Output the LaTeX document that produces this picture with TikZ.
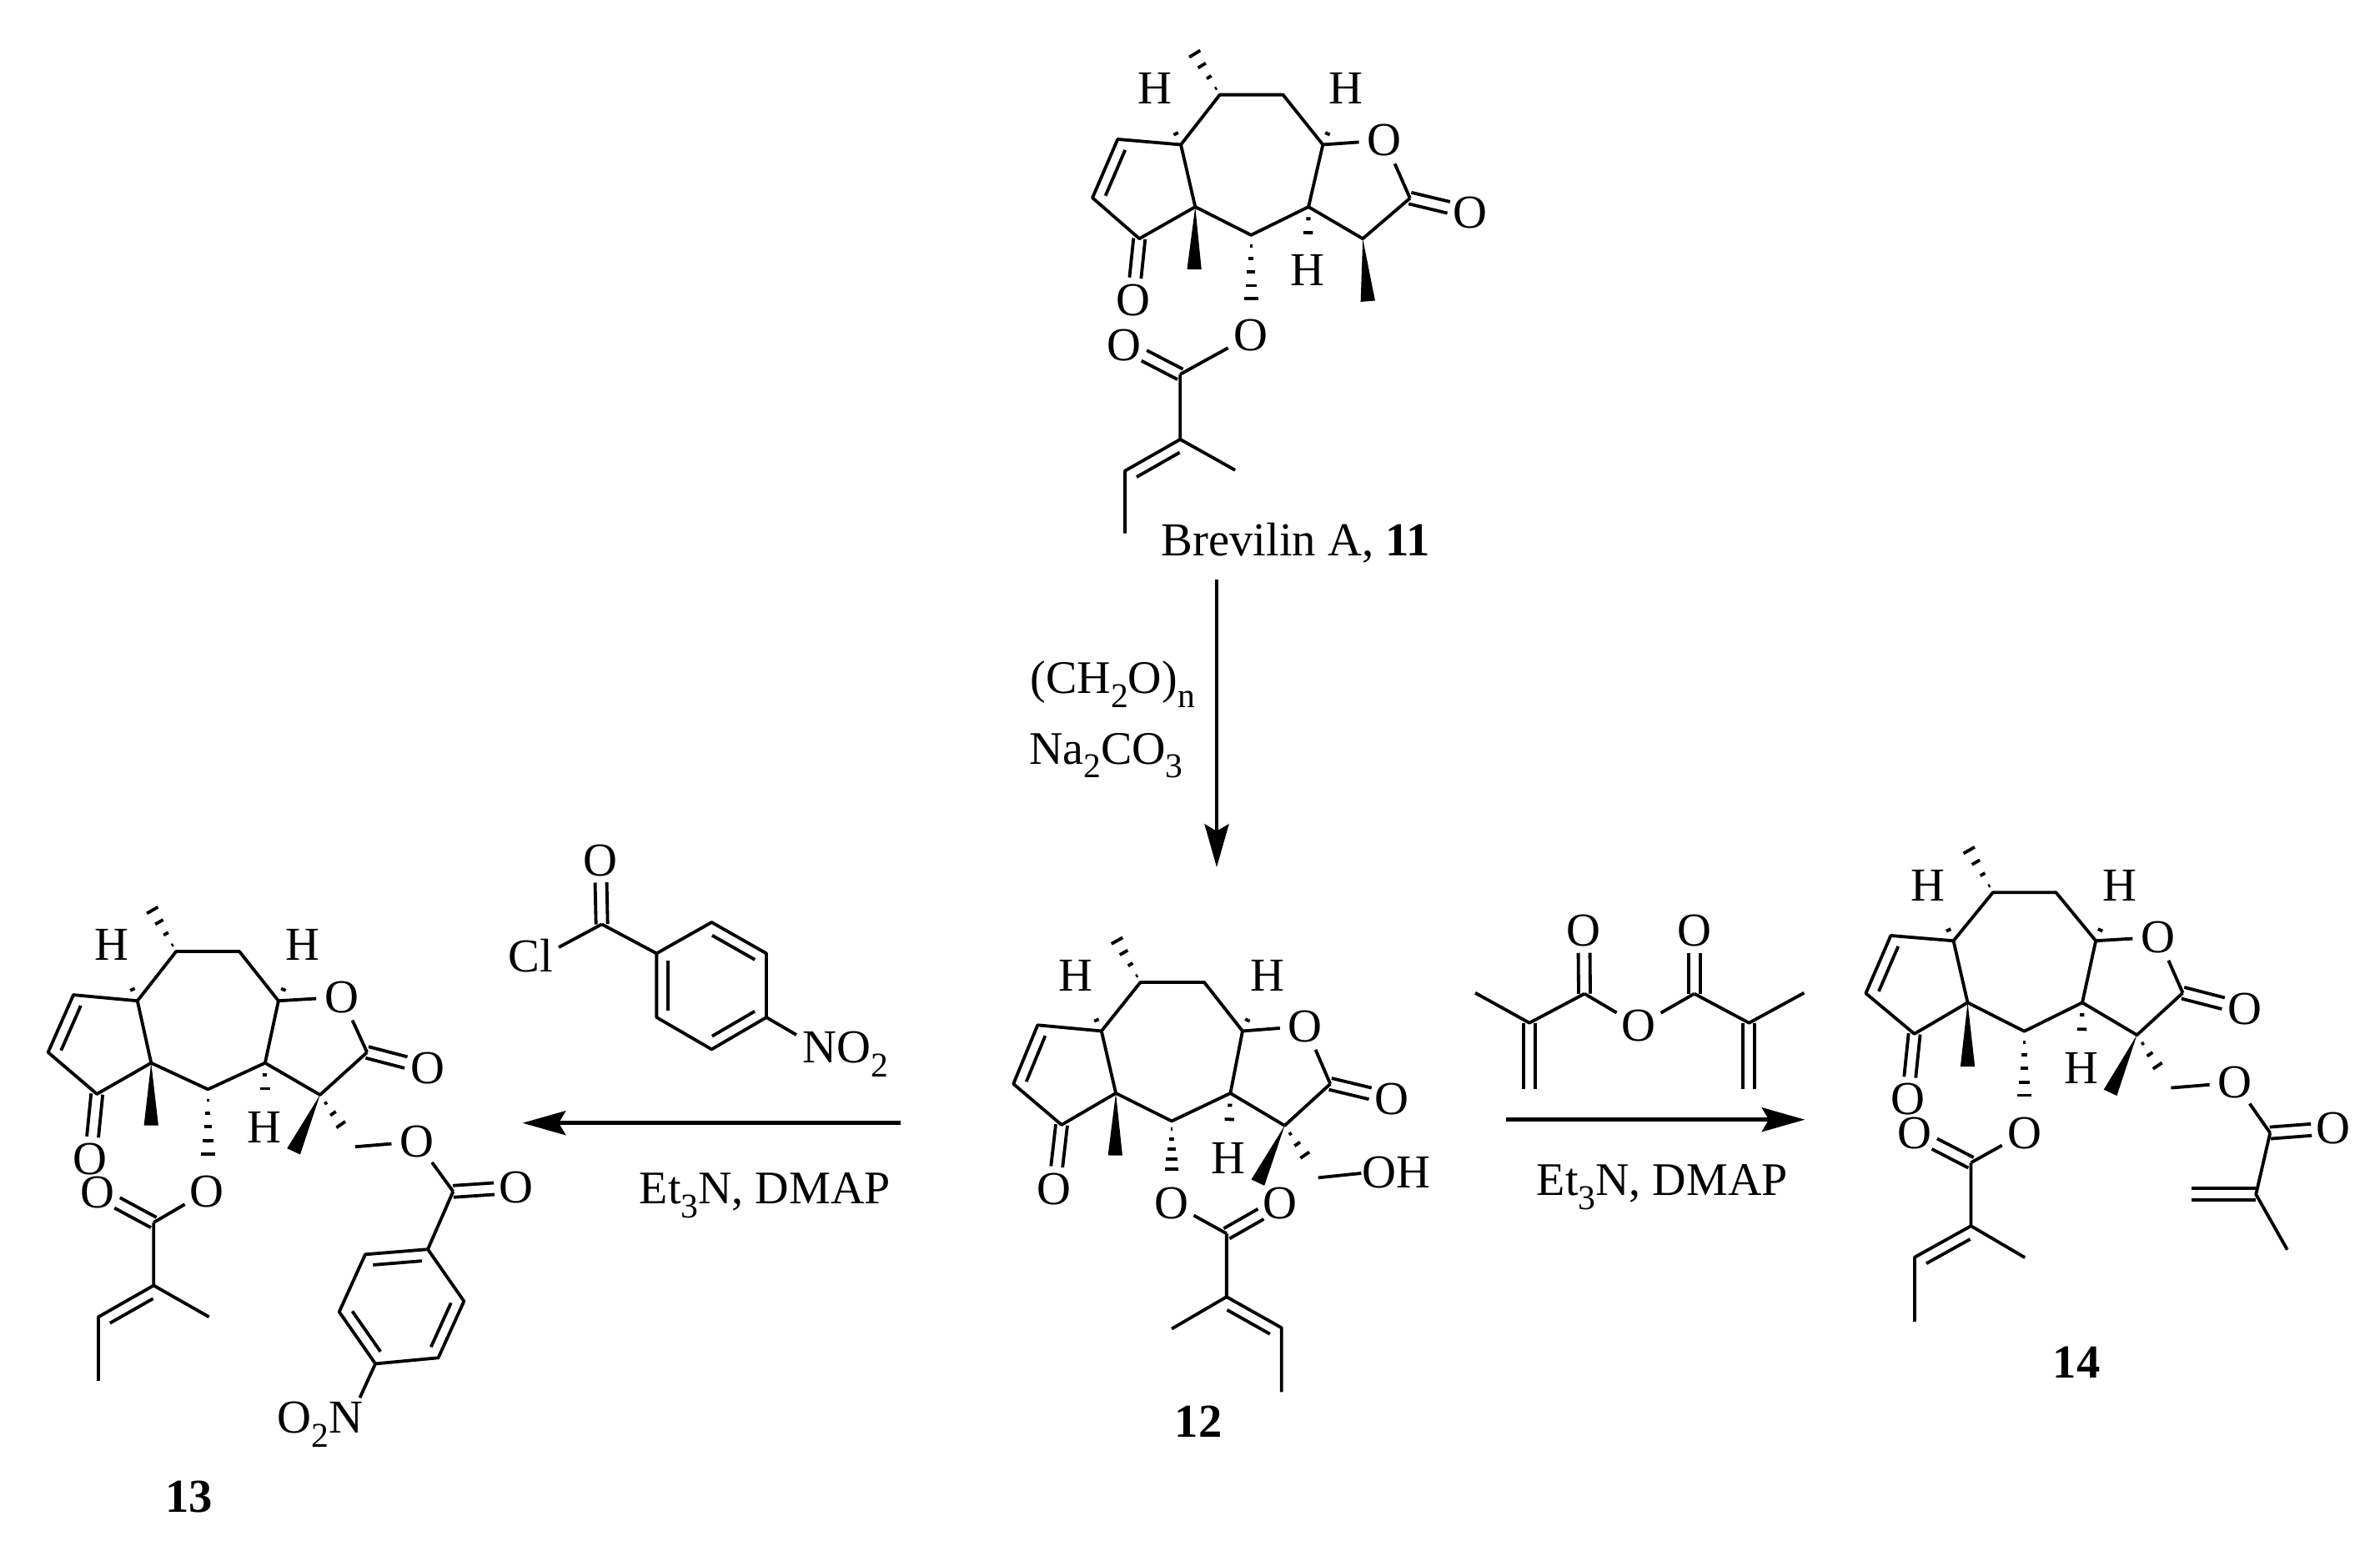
\documentclass[tikz,border=0pt]{standalone}
\usepackage{fontspec}
\setmainfont{Liberation Serif}
\usetikzlibrary{calc,arrows.meta}
\newcommand\sbs[1]{\raisebox{-.3em}{\fontsize{12.5}{13}\selectfont #1}}
\tikzset{
  bond/.style={line width=1.15pt,line cap=butt,line join=round,black},
  hashbar/.style={line width=1.15pt,black},
  atom/.style={circle,inner sep=0pt,minimum size=18pt,font=\fontsize{17}{19}\selectfont,text=black},
  plain/.style={inner sep=0pt,font=\fontsize{17}{19}\selectfont,text=black},
  rlabel/.style={inner sep=0pt,font=\fontsize{16.8}{20}\selectfont,text=black},
  rarrow/.style={line width=1.35pt,black,-{Stealth[length=15.5pt,width=8.7pt,inset=2.5pt]}},
}
% double bond: two lines either side of a--b
\newcommand\dbl[3][8pt]{%
  \draw[bond,shorten >=#1] ($(#2)!2.1pt!90:(#3)$) -- ($(#3)!2.1pt!-90:(#2)$);
  \draw[bond,shorten >=#1] ($(#2)!2.1pt!-90:(#3)$) -- ($(#3)!2.1pt!90:(#2)$);}
% inner line of a ring or alkene double bond
\newcommand\inbond[4][.11]{%
  \draw[bond] ($($(#2)!#1!(#3)$)!4pt!#4:(#3)$) -- ($($(#3)!#1!(#2)$)!4pt!-#4:(#2)$);}
% solid wedge
\newcommand\wedgeb[3][2.6pt]{%
  \fill[black] (#2) -- ($(#3)!#1!90:(#2)$) -- ($(#3)!#1!-90:(#2)$) -- cycle;}
% hashed wedge: tip, last bar, list of fractions, half width (pt number)
\newcommand\hashb[4]{%
  \foreach \tt in {#3}{%
    \pgfmathsetmacro\hw{#4*\tt}%
    \coordinate (hashp) at ($(#1)!\tt!(#2)$);
    \draw[hashbar] ($(hashp)!\hw pt!90:(#2)$) -- ($(hashp)!\hw pt!-90:(#2)$);
  }}
% common skeleton of the four sesquiterpene lactones
\newcommand\skel[1]{%
  \draw[bond] (A) -- (B) -- (C) -- (D) -- (E) -- (F) -- (G) -- cycle;
  \draw[bond] (G) -- (P) -- (I) -- (J) -- (F);
  \inbond{P}{I}{90}
  \draw[bond] (D) -- (L) -- (K);
  \draw[bond] (C) -- (Ol);
  \draw[bond] (Ol) -- (K);
  \dbl{J}{Oa}
  \dbl{K}{Ok}
  \wedgeb{F}{Fw}
  \hashb{A}{Z}{.12,.33,.55,.77,1}{3}
  \hashb{G}{Hlb}{.36,1}{2.5}
  \hashb{C}{Hrb}{.36,1}{2.5}
  \hashb{D}{Dh}{.3,.65,1}{2.6}
  \hashb{E}{Eh}{.14,.31,.48,.66,.83,1}{3}
  \draw[bond] (Oe) -- (M);
  \dbl{M}{Oc}
  \draw[bond] (M) -- (Nn) -- (Mn);
  \draw[bond] (Nn) -- (V) -- (Q);
  \inbond{Nn}{V}{#1}
}
\begin{document}
\begin{tikzpicture}
\useasboundingbox (0pt,0pt) rectangle (856.2pt,-557.7pt);
\fill[white] (0pt,0pt) rectangle (856.2pt,-557.7pt);

% ---------- 11
\begin{scope}[name prefix=a-,shift={(372pt,0pt)},x=.11480pt,y=-.13010pt]
\path (582,262) coordinate (A) (780,262) coordinate (B) (905,400) coordinate (C) (860,572) coordinate (D)
 (680,650) coordinate (E) (505,572) coordinate (F) (460,400) coordinate (G) (262,385) coordinate (P)
 (183,547) coordinate (I) (330,660) coordinate (J) (1178,548) coordinate (K) (1030,660) coordinate (L)
 (480,115) coordinate (Z) (417,316) coordinate (Hlb) (945,316) coordinate (Hrb) (858,682) coordinate (Dh)
 (680,862) coordinate (Eh) (502,745) coordinate (Fw) (1046,833) coordinate (Lw)
 (458,1035) coordinate (M) (458,1215) coordinate (Nn) (630,1300) coordinate (Mn) (285,1302) coordinate (V) (285,1475) coordinate (Q);
\node[atom] (Oa) at (310,830) {O};
\node[atom] (Ol) at (1098,388) {O};
\node[atom] (Ok) at (1367,588) {O};
\node[atom] (Oe) at (678,928) {O};
\node[atom] (Oc) at (283,955) {O};
\node[atom] (Hl) at (378,245) {H};
\node[atom] (Hr) at (978,245) {H};
\node[atom] (Hd) at (857,748) {H};
\skel{90}
\wedgeb{L}{Lw}
\node[rlabel,font=\fontsize{17}{20}\selectfont] (t11) at (820,1502) {Brevilin A, \textbf{11}};
\end{scope}

% ---------- 12
\begin{scope}[name prefix=b-,shift={(354pt,-327pt)},x=.11480pt,y=-.13393pt]
\path (490,197) coordinate (A) (690,197) coordinate (B) (810,328) coordinate (C) (772,495) coordinate (D)
 (588,570) coordinate (E) (413,495) coordinate (F) (368,328) coordinate (G) (168,312) coordinate (P)
 (92,470) coordinate (I) (243,580) coordinate (J) (1085,470) coordinate (K) (942,582) coordinate (L)
 (395,52) coordinate (Z) (325,247) coordinate (Hlb) (853,247) coordinate (Hrb) (767,603) coordinate (Dh)
 (588,725) coordinate (Eh) (411,662) coordinate (Fw) (858,735) coordinate (Lw) (1030,692) coordinate (Lh)
 (1047,722) coordinate (Ch) (1182,710) coordinate (Oh)
 (760,872) coordinate (M) (760,1042) coordinate (Nn) (588,1128) coordinate (Mn) (932,1125) coordinate (V) (932,1298) coordinate (Q);
\node[atom] (Oa) at (220,752) {O};
\node[atom] (Ol) at (1007,315) {O};
\node[atom] (Ok) at (1278,510) {O};
\node[atom] (Oe) at (587,790) {O};
\node[atom] (Oc) at (928,790) {O};
\node[atom] (Hl) at (287,180) {H};
\node[atom] (Hr) at (888,180) {H};
\node[atom] (Hd) at (765,670) {H};
\node[plain] (OH) at (1292,708) {OH};
\skel{-90}
\wedgeb{L}{Lw}
\hashb{L}{Lh}{.2,.45,.72,1}{2.7}
\draw[bond] (Ch) -- (Oh);
\node[rlabel,font=\bfseries\fontsize{17}{20}\selectfont] (t12) at (672,1378) {12};
\end{scope}

% ---------- 13
\begin{scope}[name prefix=c-,shift={(0pt,-312pt)},x=.13010pt,y=-.15306pt]
\path (487,198) coordinate (A) (662,198) coordinate (B) (770,314) coordinate (C) (733,460) coordinate (D)
 (575,522) coordinate (E) (418,460) coordinate (F) (380,314) coordinate (G) (203,300) coordinate (P)
 (133,435) coordinate (I) (268,533) coordinate (J) (1015,435) coordinate (K) (885,535) coordinate (L)
 (402,72) coordinate (Z) (342,240) coordinate (Hlb) (808,240) coordinate (Hrb) (733,553) coordinate (Dh)
 (575,705) coordinate (Eh) (418,607) coordinate (Fw) (812,668) coordinate (Lw) (965,632) coordinate (Lh)
 (982,657) coordinate (Ch) (1253,762) coordinate (Kb)
 (1183,898) coordinate (R1) (1283,1020) coordinate (R2) (1212,1153) coordinate (R3) (1038,1167) coordinate (R4)
 (938,1045) coordinate (R5) (1010,910) coordinate (R6)
 (425,835) coordinate (M) (425,983) coordinate (Nn) (578,1057) coordinate (Mn) (272,1057) coordinate (V) (272,1207) coordinate (Q);
\node[atom] (Oa) at (250,686) {O};
\node[atom] (Ol) at (945,305) {O};
\node[atom] (Ok) at (1182,472) {O};
\node[atom] (Oe) at (572,762) {O};
\node[atom] (Oc) at (270,764) {O};
\node[atom] (Hl) at (308,182) {H};
\node[atom] (Hr) at (838,182) {H};
\node[atom] (Hd) at (730,612) {H};
\node[atom] (Oj) at (1153,645) {O};
\node[atom] (Ob) at (1428,752) {O};
\node[plain] (ON) at (885,1310) {O\sbs{2}N};
\coordinate (Nb) at (995,1247);
\skel{90}
\wedgeb{L}{Lw}
\hashb{L}{Lh}{.2,.45,.72,1}{2.7}
\draw[bond] (Ch) -- (Oj);
\draw[bond] (Oj) -- (Kb);
\dbl{Kb}{Ob}
\draw[bond] (Kb) -- (R1);
\draw[bond] (R1) -- (R2) -- (R3) -- (R4) -- (R5) -- (R6) -- cycle;
\inbond{R1}{R6}{90}
\inbond{R2}{R3}{-90}
\inbond{R4}{R5}{-90}
\draw[bond] (R4) -- (Nb);
\node[rlabel,font=\bfseries\fontsize{17}{20}\selectfont] (t13) at (523,1480) {13};
\end{scope}

% ---------- 14
\begin{scope}[name prefix=d-,shift={(666pt,-294pt)},x=.12130pt,y=-.13393pt]
\path (420,202) coordinate (A) (607,202) coordinate (B) (725,332) coordinate (C) (685,498) coordinate (D)
 (513,575) coordinate (E) (345,498) coordinate (F) (303,332) coordinate (G) (117,318) coordinate (P)
 (43,473) coordinate (I) (187,582) coordinate (J) (983,472) coordinate (K) (847,585) coordinate (L)
 (328,55) coordinate (Z) (262,252) coordinate (Hlb) (762,252) coordinate (Hrb) (683,608) coordinate (Dh)
 (513,782) coordinate (Eh) (345,670) coordinate (Fw) (768,740) coordinate (Lw) (932,700) coordinate (Lh)
 (948,727) coordinate (Ch) (1242,848) coordinate (Kb) (1200,1013) coordinate (Vb) (1008,1013) coordinate (Vt) (1293,1162) coordinate (Vm)
 (355,928) coordinate (M) (355,1098) coordinate (Nn) (515,1183) coordinate (Mn) (188,1182) coordinate (V) (188,1355) coordinate (Q);
\node[atom] (Oa) at (167,758) {O};
\node[atom] (Ol) at (910,322) {O};
\node[atom] (Ok) at (1167,515) {O};
\node[atom] (Oe) at (513,848) {O};
\node[atom] (Oc) at (188,850) {O};
\node[atom] (Hl) at (228,183) {H};
\node[atom] (Hr) at (797,183) {H};
\node[atom] (Hd) at (682,675) {H};
\node[atom] (Oj) at (1138,713) {O};
\node[atom] (Ob) at (1430,835) {O};
\skel{90}
\wedgeb{L}{Lw}
\hashb{L}{Lh}{.2,.45,.72,1}{2.7}
\draw[bond] (Ch) -- (Oj);
\draw[bond] (Oj) -- (Kb);
\dbl{Kb}{Ob}
\draw[bond] (Kb) -- (Vb) -- (Vm);
\dbl[0pt]{Vb}{Vt}
\node[rlabel,font=\bfseries\fontsize{17}{20}\selectfont] (t14) at (668,1465) {14};
\end{scope}

% ---------- p-nitrobenzoyl chloride and left arrow
\begin{scope}[name prefix=e-,shift={(174pt,-294pt)},x=.1pt,y=-.1pt]
\path (425,385) coordinate (Cc) (270,468) coordinate (Cle)
 (622,490) coordinate (R1) (820,378) coordinate (R2) (1017,490) coordinate (R3) (1017,720) coordinate (R4)
 (820,835) coordinate (R5) (622,720) coordinate (R6) (1125,783) coordinate (Ne)
 (1500,1100) coordinate (As) (140,1100) coordinate (At);
\node[atom] (O) at (420,155) {O};
\node[plain] (Cl) at (168,497) {Cl};
\node[plain,anchor=west] (NO) at (1145,852) {NO\sbs{2}};
\dbl{Cc}{O}
\draw[bond] (Cc) -- (Cle);
\draw[bond] (Cc) -- (R1);
\draw[bond] (R1) -- (R2) -- (R3) -- (R4) -- (R5) -- (R6) -- cycle;
\inbond{R1}{R6}{90}
\inbond{R2}{R3}{-90}
\inbond{R4}{R5}{-90}
\draw[bond] (R4) -- (Ne);
\draw[rarrow] (As) -- (At);
\node[rlabel,anchor=base] (Lt) at (1012,1390) {Et\sbs{3}N, DMAP};
\end{scope}

% ---------- methacrylic anhydride and right arrow
\begin{scope}[name prefix=f-,shift={(528pt,-318pt)},x=.1pt,y=-.1pt]
\path (420,395) coordinate (C1) (815,395) coordinate (C2) (222,500) coordinate (V1) (1012,500) coordinate (V2)
 (27,392) coordinate (M1) (1210,392) coordinate (M2) (222,737) coordinate (T1) (1012,737) coordinate (T2)
 (138,848) coordinate (As) (1213,848) coordinate (At);
\node[atom] (O1) at (418,168) {O};
\node[atom] (O2) at (815,168) {O};
\node[atom] (O3) at (615,510) {O};
\dbl{C1}{O1}
\dbl{C2}{O2}
\draw[bond] (M1) -- (V1) -- (C1);
\draw[bond] (C1) -- (O3);
\draw[bond] (C2) -- (O3);
\draw[bond] (C2) -- (V2) -- (M2);
\dbl[0pt]{V1}{T1}
\dbl[0pt]{V2}{T2}
\draw[rarrow] (As) -- (At);
\node[rlabel,anchor=base] (Rt) at (700,1120) {Et\sbs{3}N, DMAP};
\end{scope}

% ---------- vertical arrow and its reagents
\begin{scope}[name prefix=g-,shift={(360pt,-204pt)},x=.1pt,y=-.1pt]
\path (777,45) coordinate (As) (777,1080) coordinate (At);
\draw[rarrow] (As) -- (At);
\node[rlabel,anchor=base west] (r1) at (105,455) {(CH\sbs{2}O)\sbs{n}};
\node[rlabel,anchor=base west] (r2) at (100,708) {Na\sbs{2}CO\sbs{3}};
\end{scope}
\end{tikzpicture}
\end{document}
